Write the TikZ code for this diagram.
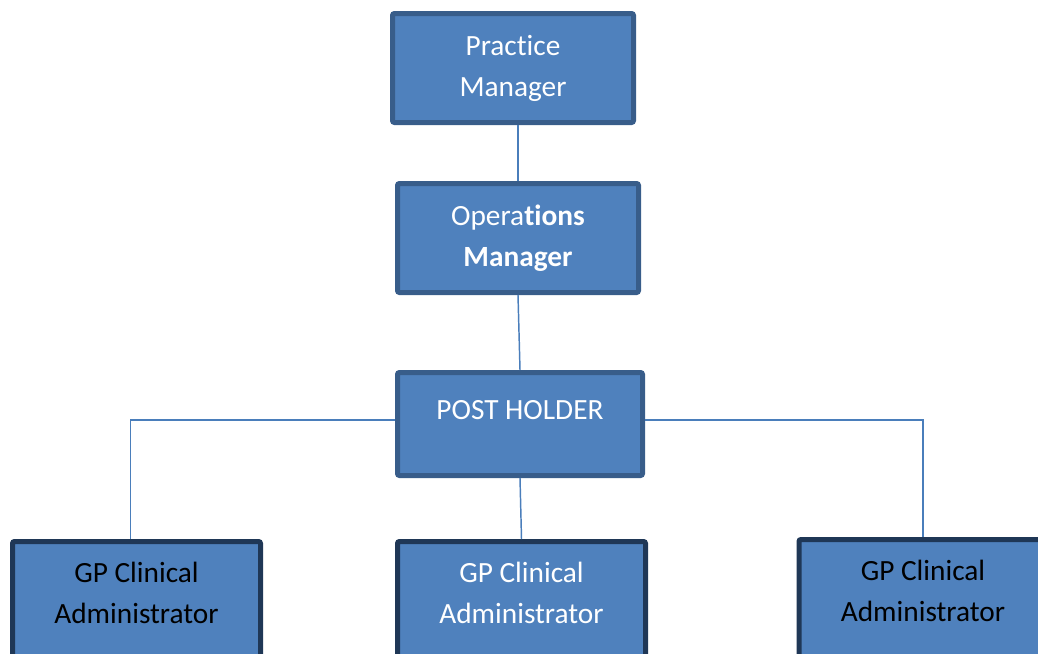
\documentclass[tikz,border=0pt]{standalone}
\usepackage{fontspec}
\setmainfont{Carlito}[Ligatures=NoCommon]
\usetikzlibrary{calc}
\definecolor{boxblue}{RGB}{79,129,189}
\definecolor{boxedge}{RGB}{56,93,138}
\definecolor{staffedge}{RGB}{31,55,86}
\definecolor{linkblue}{RGB}{74,126,187}
\tikzset{%
  mgrbox/.style={rectangle, fill=boxblue, draw=boxedge, line width=3.75pt,
    rounded corners=1.5pt, align=center, text=white,
    font=\fontsize{22}{30.75}\selectfont},
  staffbox/.style={mgrbox, draw=staffedge, anchor=north, inner ysep=15.4pt,
    minimum width=186pt},
  link/.style={draw=linkblue, line width=1.1pt}
}

\begin{document}
\begin{tikzpicture}[x=0.75pt, y=-0.75pt]
  \useasboundingbox (0,0) rectangle (1038,653);
  \clip (0,0) rectangle (1038,653);

% managers
\node (PM) [mgrbox, minimum width=180.75pt, minimum height=81.75pt] at (513,68)
  {Practice\\Manager};
\node (OM) [mgrbox, minimum width=180.75pt, minimum height=81.75pt] at (518,238)
  {Opera\textbf{tions}\\\textbf{Manager}};
\node (PH) [mgrbox, minimum width=183.75pt, minimum height=77.25pt] at (520,424)
  {POST HOLDER\\[-9pt]\mbox{}};

% staff
\node (GPa) [staffbox, text=black] at (136.5,539) {GP Clinical\\Administrator\\\mbox{}};
\node (GPb) [staffbox] at (521.5,539) {GP Clinical\\Administrator\\\mbox{}};
\node (GPc) [staffbox, text=black] at (923,537) {GP Clinical\\Administrator\\\mbox{}};

% links
\path [link] (OM.north) -- (OM.north |- PM.south);
\path [link] (OM.south) -- (PH.north);
\path [link] ([yshift=3pt]PH.west) -| ([xshift=-4.5pt]GPa.north);
\path [link] ([yshift=3pt]PH.east) -| (GPc.north);
\path [link] (PH.south) -- (GPb.north);
\end{tikzpicture}
\end{document}
